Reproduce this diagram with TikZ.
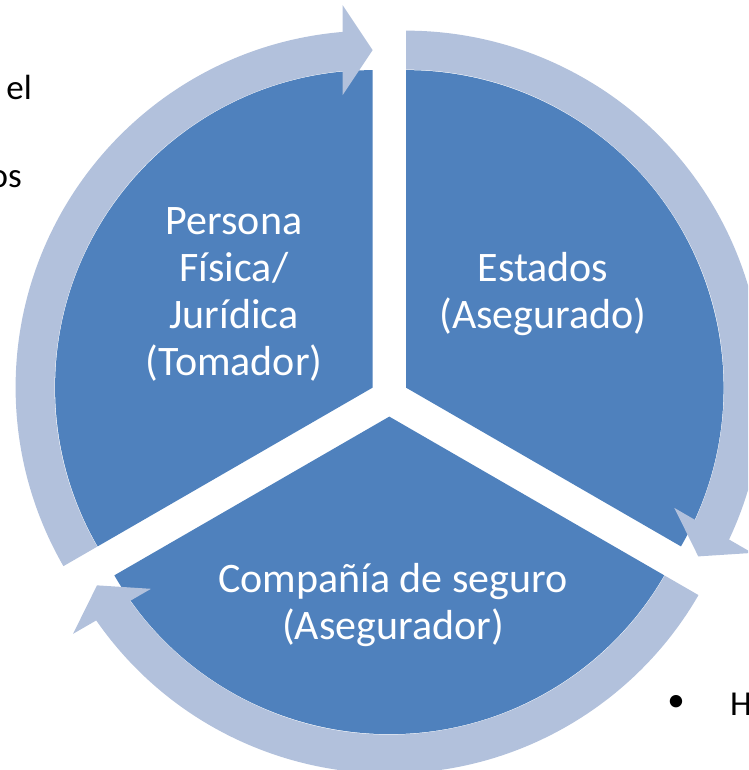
\documentclass[tikz,border=0pt]{standalone}
\usepackage{fontspec}
\setmainfont{Carlito}
\usetikzlibrary{calc}
\definecolor{piecol}{HTML}{4F81BD}
\definecolor{arrowcol}{HTML}{B2C1DC}
\tikzset{
  sector/.style={fill=piecol},
  ringarrow/.style={fill=arrowcol},
  label/.style={text=white,align=center,font=\fontsize{42}{47}\selectfont},
  stray/.style={text=black,font=\fontsize{35}{42}\selectfont,inner sep=0pt}
}
\newcommand\ringarrowpath[3]{%
  \fill[ringarrow] ($(#1)+(#2:318)$) arc[start angle=#2, end angle=#3+4.5, radius=318]
     -- ($(#1)+(#3+4.5:357)$) arc[start angle=#3+4.5, end angle=#2, radius=357] -- cycle;
  \fill[ringarrow] ($(#1)+(#3:337.5)$)
     -- ($(#1)+(#3:337.5)+(#3+90:30)+(#3:45)$)
     -- ($(#1)+(#3:337.5)+(#3+90:30)+(#3+180:45)$) -- cycle;
}
\begin{document}
\begin{tikzpicture}[x=1pt,y=1pt]
\useasboundingbox (0,0) rectangle (748,770);
\clip (0,0) rectangle (748,770);
\coordinate (O) at (389.3,372.7);
\coordinate (L) at (372.6,382.35);
\coordinate (R) at (406,382.35);
\coordinate (B) at (389.3,353.4);
% sectors
\fill[sector] (L) -- ++(90:317.5) arc[start angle=90, end angle=210, radius=317.5] -- cycle;
\fill[sector] (R) -- ++(-30:317.5) arc[start angle=-30, end angle=90, radius=317.5] -- cycle;
\fill[sector] (B) -- ++(210:317.5) arc[start angle=210, end angle=330, radius=317.5] -- cycle;
% arrows
\ringarrowpath{L}{210}{90}
\ringarrowpath{R}{90}{-30}
\ringarrowpath{B}{330}{210}
% labels
\node[label] (tomador) at (234,476) {Persona\\Física/\\Jurídica\\(Tomador)};
\node[label] (asegurado) at (543,476) {Estados\\(Asegurado)};
\node[label] (asegurador) at (393,165) {Compañía de seguro\\(Asegurador)};
% stray text
\node[stray,anchor=base east] (el) at (32,670) {el};
\node[stray,anchor=base east] (os) at (22,582) {os};
\node[stray] (bullet) at (676,66.7) {•};
\node[stray,anchor=base west] (h) at (730,54) {H};
\end{tikzpicture}
\end{document}
